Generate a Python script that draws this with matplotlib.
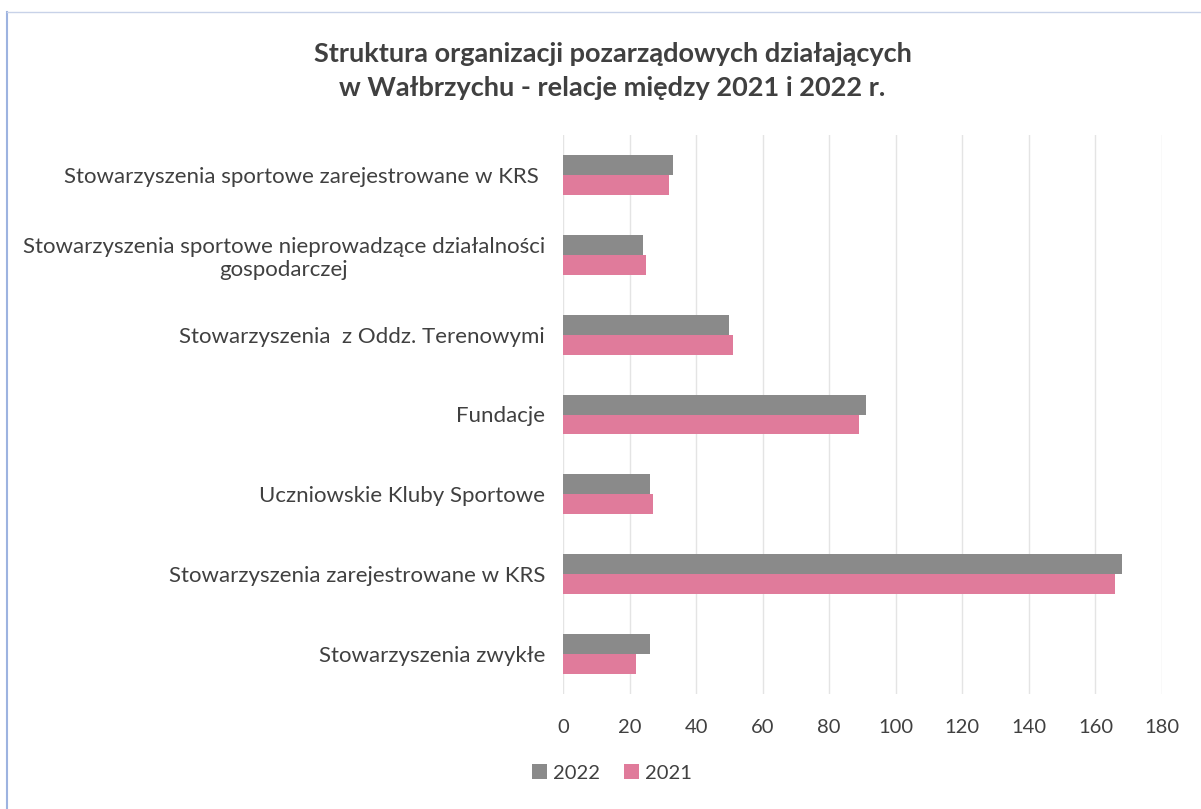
import matplotlib.pyplot as plt
import numpy as np
from matplotlib.lines import Line2D

# kategorie od góry do dołu
kategorie = [
    "Stowarzyszenia sportowe zarejestrowane w KRS ",
    "Stowarzyszenia sportowe nieprowadzące działalności\ngospodarczej",
    "Stowarzyszenia  z Oddz. Terenowymi",
    "Fundacje",
    "Uczniowskie Kluby Sportowe",
    "Stowarzyszenia zarejestrowane w KRS",
    "Stowarzyszenia zwykłe",
]
wartosci_2022 = [33, 24, 50, 91, 26, 168, 26]
wartosci_2021 = [32, 25, 51, 89, 27, 166, 22]
ticki_x = [0, 20, 40, 60, 80, 100, 120, 140, 160, 180]

plt.rcParams['font.family'] = ['Lato', 'DejaVu Sans']

fig = plt.figure(figsize=(12.01, 8.09), dpi=100)
ax = fig.add_axes([563 / 1201, 1 - 694 / 809, (1162 - 563) / 1201, (694 - 135) / 809])

y = np.arange(len(kategorie))
h = 0.25
ax.barh(y - h / 2, wartosci_2022, height=h, color='#8a8a8a', label='2022', zorder=3)
ax.barh(y + h / 2, wartosci_2021, height=h, color='#e07b9b', label='2021', zorder=3)

ax.set_ylim(len(kategorie) - 0.5, -0.5)
ax.set_xlim(0, 180)
ax.set_xticks(ticki_x)
ax.set_yticks(y)
ax.set_yticklabels(kategorie, multialignment='center', fontsize=16)
ax.tick_params(length=0, labelcolor='#404040')
ax.tick_params(axis='x', pad=18, labelsize=14.5)
ax.tick_params(axis='y', pad=13)
ax.grid(axis='x', color='#e4e4e4', linewidth=1, zorder=0)
for s in ax.spines.values():
    s.set_visible(False)

fig.text(0.51, 1 - 71 / 809, "Struktura organizacji pozarządowych działających\nw Wałbrzychu - relacje między 2021 i 2022 r.",
         ha='center', va='center', fontsize=19.5, fontweight='bold', color='#404040', linespacing=1.45)

fig.legend(loc='center', bbox_to_anchor=(612 / 1201, 1 - 773 / 809), ncol=2, frameon=False,
           fontsize=14.5, handlelength=0.75, handleheight=0.75, handletextpad=0.3, columnspacing=1.2,
           labelcolor='#404040')

# ramka wykresu
fig.add_artist(Line2D([7 / 1201, 7 / 1201], [0, 1 - 12 / 809], transform=fig.transFigure, color='#9db3e0', lw=1.5))
fig.add_artist(Line2D([7 / 1201, 1], [1 - 12 / 809, 1 - 12 / 809], transform=fig.transFigure, color='#c8d2e8', lw=1))

fig.savefig('out.png', dpi=100)
